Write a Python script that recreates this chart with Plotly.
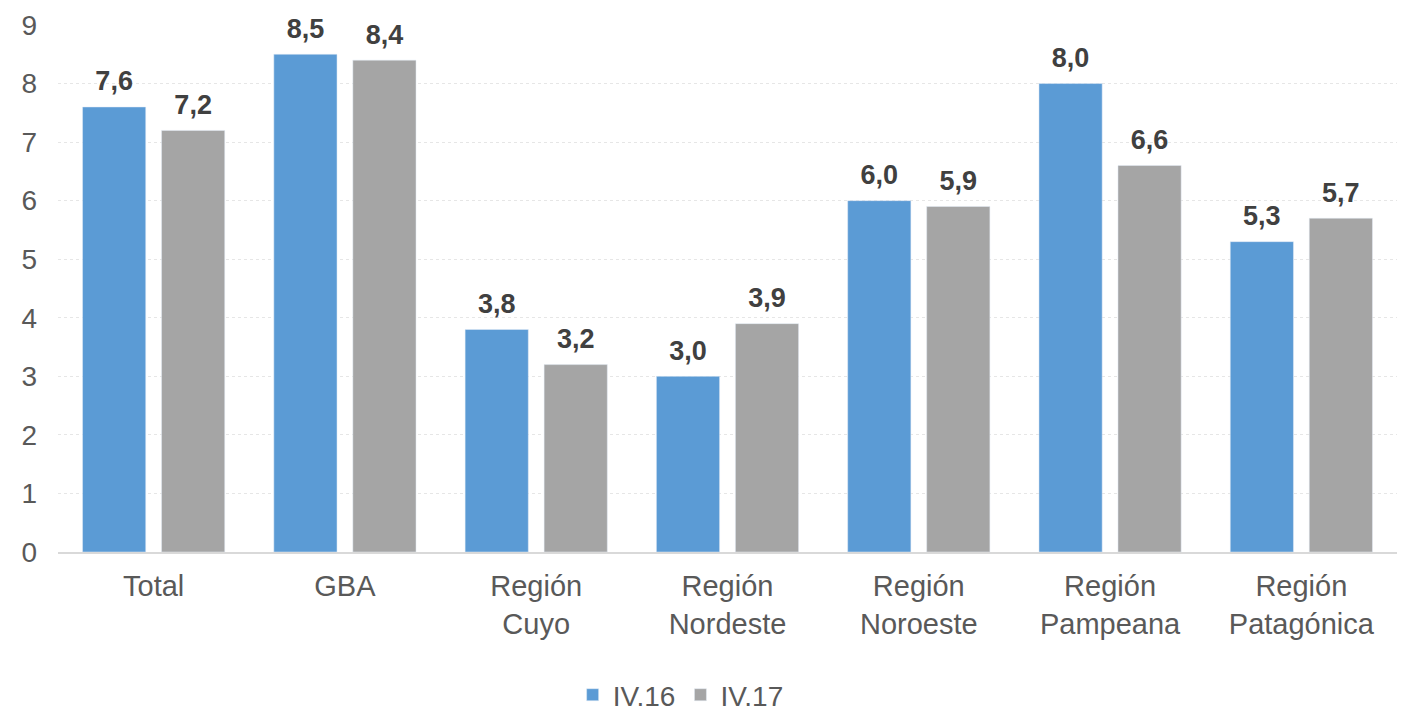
import plotly.graph_objects as go

categories = ["Total", "GBA", "Región<br>Cuyo", "Región<br>Nordeste", "Región<br>Noroeste",
              "Región<br>Pampeana", "Región<br>Patagónica"]
series_names = ["IV.16", "IV.17"]
values_iv16 = [7.6, 8.5, 3.8, 3.0, 6.0, 8.0, 5.3]
values_iv17 = [7.2, 8.4, 3.2, 3.9, 5.9, 6.6, 5.7]
colors = ["#5B9BD5", "#A5A5A5"]
y_ticks = list(range(0, 10))

def fmt(v):
    return f"{v:.1f}".replace(".", ",")

FONT = "Liberation Sans, Arial"
fig = go.Figure()
for name, vals, col in zip(series_names, [values_iv16, values_iv17], colors):
    fig.add_trace(go.Bar(
        x=categories, y=vals, name=name, marker_color=col, hoverinfo="x+y",
    ))
for name, vals in zip(series_names, [values_iv16, values_iv17]):
    fig.add_trace(go.Scatter(
        x=categories, y=vals, mode="markers+text", orientation="v",
        marker=dict(size=14, opacity=0), showlegend=False, hoverinfo="skip",
        text=[f"<b>{fmt(v)}</b>" for v in vals], textposition="top center",
        textfont=dict(family=FONT, size=27, color="#404040"), cliponaxis=False,
    ))

fig.update_layout(
    width=1412, height=712,
    margin=dict(l=50, r=23, t=17, b=168, autoexpand=False),
    plot_bgcolor="white", paper_bgcolor="white",
    barmode="group", bargap=0.174, bargroupgap=0.2,
    scattermode="group", scattergap=0.174,
    font=dict(family=FONT, size=29, color="#595959"),
    legend=dict(orientation="h", x=0.465, xanchor="center", yref="container", y=0.0,
                yanchor="bottom",
                font=dict(size=28, color="#595959"), itemwidth=30, traceorder="normal"),
)
fig.update_yaxes(range=[0, 9], tickvals=y_ticks, showgrid=True, gridcolor="#E6E6E6",
                 griddash="dot", gridwidth=1, zeroline=False, showline=False,
                 ticks="", tickfont=dict(size=28, color="#595959"), ticklabelstandoff=20,
                 ticklabeloverflow="allow", automargin=False)
fig.update_xaxes(showline=True, linecolor="#D9D9D9", linewidth=2, ticks="",
                 tickfont=dict(size=29, color="#595959"), automargin=False,
                 ticklabelstandoff=7)

fig.write_html("out.html")
